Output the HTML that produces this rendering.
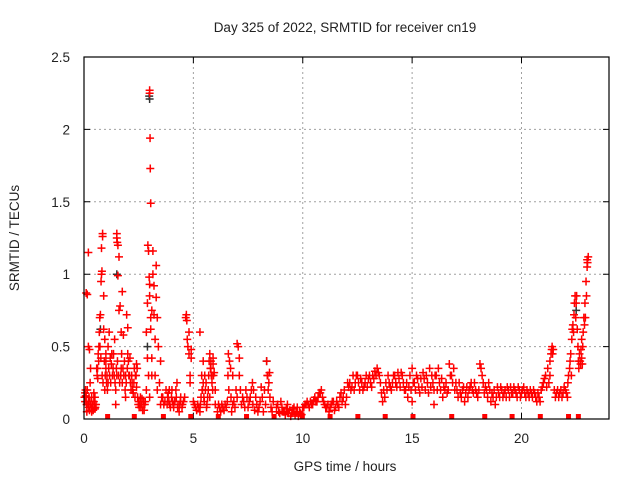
<!DOCTYPE html>
<html><head><meta charset="utf-8"><style>
body{margin:0;background:#fff}
svg{display:block;font-family:"Liberation Sans",sans-serif}
</style></head><body>
<svg id="chart" width="640" height="480" viewBox="0 0 640 480">
<rect width="640" height="480" fill="#fff"/>
<text x="345" y="32" text-anchor="middle" font-size="13.5" fill="#222">Day 325 of 2022, SRMTID for receiver cn19</text>
<text x="345" y="471" text-anchor="middle" font-size="13.5" fill="#222">GPS time / hours</text>
<text transform="translate(19,238) rotate(-90)" text-anchor="middle" font-size="13.5" fill="#222">SRMTID / TECUs</text>
<g id="grid"></g>
<g id="axes"></g>
<g id="marks"></g>
<rect x="84" y="57" width="525" height="362" fill="none" stroke="#000" stroke-width="1.2"/>
</svg>
<script>
const xTicks=[0,5,10,15,20];
const yTicks=[0,0.5,1,1.5,2,2.5];
const yTickLabels=["0","0.5","1","1.5","2","2.5"];
const redT=[0.05,0.1,0.12,0.15,0.2,0.22,0.25,0.3,0.35,0.4,0.45,0.5,0.1,0.15,0.2,0.2,0.25,0.3,0.28,0.05,0.08,0.35,0.45,0.5,0.55,
0.6,0.62,0.65,0.68,0.7,0.72,0.75,0.78,0.8,0.82,0.8,0.85,0.85,0.9,0.9,0.95,1.0,1.0,1.05,1.1,1.0,0.95,1.1,1.15,1.2,1.25,1.3,
1.35,1.4,1.45,1.45,1.5,1.5,1.5,1.52,1.55,1.55,1.6,1.6,1.65,1.7,1.7,1.75,1.75,1.8,1.85,1.9,1.9,1.95,2.0,2.0,2.05,2.1,2.15,2.2,2.25,2.3,2.35,2.4,2.4,2.45,
2.5,2.55,2.6,2.65,2.7,2.75,2.8,2.85,2.9,2.92,2.95,2.98,3.0,3.0,3.02,3.03,3.05,3.0,3.0,3.05,3.05,3.1,3.1,3.1,3.15,3.15,3.2,3.2,3.25,3.25,3.3,3.3,3.35,3.35,3.4,2.9,2.95,2.85,3.0,
3.45,3.5,3.5,3.6,3.7,3.8,3.9,4.0,4.05,4.1,4.2,4.25,4.3,4.35,4.4,3.85,3.95,
4.5,4.6,4.65,4.68,4.7,4.72,4.75,4.8,4.8,4.85,4.85,4.9,4.9,5.0,5.05,5.1,5.15,5.2,
5.3,5.3,5.35,5.4,5.45,5.45,5.5,5.55,5.6,5.65,5.7,5.75,5.8,5.8,5.85,5.85,5.9,5.95,6.0,6.0,5.75,5.9,
6.1,6.2,6.3,6.4,6.5,6.55,6.6,6.65,6.7,6.8,6.8,6.9,7.0,7.0,7.05,7.1,7.1,7.2,7.3,7.4,7.45,6.75,
7.5,7.6,7.7,7.75,7.8,7.9,8.0,8.1,8.15,8.2,8.3,8.35,8.4,8.45,8.5,8.55,8.6,8.65,
8.8,8.9,9.0,9.1,9.2,9.3,9.4,9.5,9.6,9.7,9.8,9.9,10.0,9.25,9.45,
10.1,10.2,10.3,10.4,10.5,10.6,10.7,10.8,10.85,10.9,11.0,11.1,11.2,11.3,11.4,11.5,11.6,11.7,11.8,11.9,12.0,12.05,11.95,
12.1,12.2,12.3,12.4,12.5,12.6,12.7,12.8,12.9,13.0,13.1,13.2,13.3,13.4,13.5,13.6,13.7,13.8,13.9,14.0,13.65,
14.1,14.2,14.3,14.4,14.5,14.6,14.7,14.8,14.9,15.0,15.0,15.1,15.2,15.3,15.4,15.5,15.6,15.7,15.8,15.9,16.0,16.0,
16.1,16.2,16.3,16.4,16.5,16.6,16.7,16.8,16.9,17.0,17.1,17.2,17.3,17.4,17.5,17.6,17.7,17.8,17.9,18.0,
18.1,18.15,18.2,18.3,18.4,18.5,18.6,18.7,18.8,18.9,19.0,19.1,19.2,19.3,19.4,19.5,19.6,19.7,19.8,19.9,20.0,
20.1,20.2,20.3,20.4,20.5,20.6,20.7,20.8,20.9,21.0,21.1,21.2,21.3,21.35,21.4,21.45,21.5,
21.6,21.7,21.8,21.9,22.0,22.1,22.15,22.2,22.25,22.3,22.35,22.4,22.45,22.5,22.55,22.6,22.65,22.7,22.75,22.8,22.85,22.9,22.95,23.0,23.05,23.0,22.75];
const redV=[0.18,0.15,0.1,0.2,0.12,0.08,0.06,0.1,0.05,0.08,0.12,0.07,0.87,0.86,1.15,0.5,0.48,0.35,0.25,0.12,0.16,0.15,0.18,0.15,0.1,
0.3,0.35,0.45,0.5,0.6,0.7,0.72,0.95,1.0,1.02,1.18,1.26,1.28,0.85,0.62,0.55,0.45,0.4,0.3,0.25,0.35,0.2,0.5,0.6,0.42,0.38,0.3,
0.45,0.55,0.2,0.1,0.3,1.28,1.25,1.22,1.2,0.99,1.12,0.75,0.78,0.6,0.35,0.88,0.25,0.58,0.4,0.3,0.15,0.72,0.63,0.45,0.3,0.42,0.2,0.25,0.18,0.35,0.3,0.38,0.22,0.15,
0.12,0.1,0.08,0.14,0.1,0.06,0.12,0.6,0.8,1.2,1.16,0.98,2.25,2.27,1.94,1.73,1.49,0.93,0.85,0.7,0.62,0.75,0.42,0.3,1.16,1.0,0.92,0.72,0.55,0.3,1.06,0.84,0.7,0.2,0.5,0.42,0.3,0.2,0.15,
0.25,0.4,0.1,0.15,0.12,0.1,0.2,0.15,0.12,0.08,0.2,0.25,0.1,0.05,0.12,0.18,0.08,
0.1,0.15,0.7,0.72,0.68,0.55,0.5,0.45,0.6,0.3,0.25,0.48,0.42,0.12,0.1,0.08,0.06,0.1,
0.6,0.05,0.15,0.2,0.25,0.4,0.12,0.2,0.08,0.15,0.3,0.45,0.4,0.35,0.3,0.25,0.38,0.32,0.2,0.1,0.15,0.42,
0.05,0.08,0.1,0.06,0.08,0.12,0.45,0.4,0.35,0.3,0.1,0.08,0.15,0.52,0.5,0.42,0.3,0.1,0.12,0.2,0.15,0.05,
0.08,0.15,0.25,0.2,0.06,0.1,0.08,0.22,0.15,0.05,0.1,0.4,0.3,0.25,0.15,0.08,0.05,0.12,
0.08,0.05,0.12,0.05,0.03,0.1,0.06,0.04,0.08,0.05,0.02,0.04,0.08,0.07,0.02,
0.1,0.12,0.08,0.1,0.13,0.12,0.15,0.18,0.2,0.15,0.1,0.08,0.05,0.1,0.12,0.08,0.1,0.15,0.12,0.2,0.15,0.25,0.1,
0.22,0.2,0.3,0.25,0.3,0.2,0.25,0.22,0.3,0.28,0.25,0.3,0.33,0.35,0.3,0.18,0.2,0.25,0.3,0.22,0.12,
0.25,0.3,0.22,0.28,0.32,0.25,0.2,0.15,0.3,0.35,0.12,0.25,0.3,0.22,0.28,0.32,0.2,0.25,0.35,0.3,0.1,0.2,
0.3,0.35,0.2,0.15,0.2,0.18,0.38,0.3,0.35,0.25,0.15,0.18,0.2,0.12,0.22,0.2,0.25,0.18,0.2,0.15,
0.38,0.35,0.3,0.18,0.2,0.25,0.12,0.15,0.1,0.22,0.15,0.2,0.18,0.15,0.2,0.22,0.18,0.2,0.15,0.2,0.18,
0.22,0.15,0.18,0.2,0.15,0.18,0.12,0.15,0.2,0.25,0.3,0.35,0.3,0.45,0.5,0.48,0.2,
0.18,0.15,0.2,0.18,0.2,0.15,0.3,0.35,0.45,0.55,0.65,0.72,0.85,0.8,0.62,0.4,0.45,0.38,0.42,0.5,0.7,0.8,0.95,1.1,1.12,1.05,0.55];
const redT2=[0.02,0.07,0.13,0.18,0.23,0.27,0.33,0.38,0.42,0.48,0.52,0.58,0.63,0.67,0.73,0.77,0.83,0.87,0.93,0.97,1.03,1.07,1.13,1.17,1.22,1.27,1.33,1.38,1.42,1.48,1.53,1.58,1.63,1.68,1.72,1.78,1.82,1.88,1.93,1.98,2.03,2.08,2.12,2.18,2.22,2.28,2.33,2.38,2.43,2.48,2.52,2.58,2.62,2.68,2.72,2.78,
3.55,3.65,3.75,3.82,3.88,3.92,4.02,4.08,4.15,4.22,4.28,4.38,4.42,4.48,4.55,
5.25,5.32,5.38,5.42,5.48,5.52,5.58,5.62,5.68,5.72,5.78,5.82,5.88,5.92,
6.15,6.25,6.35,6.45,6.58,6.62,6.72,6.85,6.95,7.15,7.25,7.35,7.55,7.65,7.72,7.85,7.95,8.05,8.25,8.38,8.42,8.48,
8.85,8.95,9.05,9.15,9.35,9.55,9.65,9.75,9.85,9.95,
10.05,10.15,10.25,10.35,10.45,10.55,10.65,10.75,10.95,11.05,11.15,11.25,11.35,11.45,11.55,11.65,11.75,11.85,12.15,12.25,12.35,12.45,12.55,12.65,12.75,12.85,12.95,13.05,13.15,13.25,13.35,13.45,13.55,13.75,13.85,13.95,
14.05,14.15,14.25,14.35,14.45,14.55,14.65,14.75,14.85,14.95,15.05,15.15,15.25,15.35,15.45,15.55,15.65,15.75,15.85,15.95,16.05,16.15,16.25,16.35,16.45,16.55,16.65,16.75,16.85,16.95,
17.05,17.15,17.25,17.35,17.45,17.55,17.65,17.75,17.85,17.95,18.05,18.25,18.35,18.45,18.55,18.65,18.75,18.85,18.95,19.05,19.15,19.25,19.35,19.45,19.55,19.65,19.75,19.85,19.95,
20.05,20.15,20.25,20.35,20.45,20.55,20.65,20.75,20.85,20.95,21.05,21.15,21.25,21.3,21.38,21.42,21.55,21.65,21.75,21.85,21.95,22.05,22.12,22.22,22.28,22.32,22.38,22.42,22.48,22.52,22.58,22.62,22.68,22.72,22.78,22.82,22.88,22.92,22.97,23.02];
const redV2=[0.15,0.2,0.05,0.1,0.15,0.12,0.08,0.1,0.06,0.1,0.08,0.35,0.28,0.4,0.5,0.42,0.3,0.25,0.4,0.3,0.25,0.2,0.35,0.3,0.25,0.45,0.35,0.3,0.25,0.35,0.4,0.3,0.25,0.3,0.45,0.35,0.3,0.2,0.25,0.35,0.4,0.3,0.25,0.3,0.2,0.25,0.15,0.3,0.35,0.1,0.08,0.15,0.1,0.06,0.12,0.1,
0.15,0.1,0.2,0.15,0.12,0.1,0.2,0.1,0.12,0.15,0.08,0.1,0.15,0.08,0.12,
0.08,0.1,0.3,0.2,0.15,0.3,0.25,0.1,0.2,0.4,0.35,0.3,0.2,0.3,
0.1,0.05,0.08,0.1,0.3,0.2,0.15,0.12,0.2,0.2,0.15,0.08,0.12,0.2,0.1,0.15,0.05,0.12,0.2,0.3,0.2,0.32,
0.1,0.04,0.08,0.05,0.04,0.07,0.03,0.08,0.05,0.03,
0.08,0.1,0.1,0.12,0.1,0.15,0.12,0.18,0.12,0.08,0.1,0.08,0.12,0.06,0.12,0.08,0.18,0.15,0.25,0.22,0.2,0.3,0.25,0.28,0.2,0.25,0.22,0.3,0.22,0.28,0.3,0.32,0.25,0.15,0.2,0.25,
0.2,0.3,0.25,0.32,0.22,0.3,0.2,0.25,0.22,0.2,0.25,0.2,0.28,0.18,0.22,0.28,0.3,0.18,0.22,0.25,0.3,0.2,0.25,0.28,0.22,0.25,0.2,0.3,0.25,0.2,
0.2,0.25,0.15,0.22,0.18,0.15,0.22,0.2,0.25,0.18,0.2,0.25,0.22,0.15,0.2,0.18,0.2,0.15,0.18,0.22,0.15,0.2,0.22,0.15,0.18,0.22,0.18,0.22,0.15,
0.2,0.18,0.2,0.15,0.18,0.2,0.15,0.18,0.12,0.22,0.28,0.22,0.25,0.4,0.48,0.45,0.15,0.2,0.18,0.15,0.22,0.18,0.25,0.4,0.3,0.62,0.6,0.8,0.7,0.85,0.5,0.35,0.4,0.48,0.38,0.6,0.65,0.7,0.85,1.08];
const blackT=[2.98,3.0,1.5,0.75,2.9,8.35,22.5];
const blackV=[2.23,2.21,1.0,0.62,0.5,0.4,0.75];
const zeroT=[1.08,2.3,3.63,4.88,6.14,7.43,8.69,9.98,11.25,12.52,13.77,15.04,16.81,18.32,19.57,20.86,22.15,22.6];

const X0=84,X1=609,Y0=419,Y1=57,XMAX=24,YMAX=2.5;
const sx=t=>X0+(X1-X0)*t/XMAX;
const sy=v=>Y0-(Y0-Y1)*v/YMAX;
const NS="http://www.w3.org/2000/svg";
function mk(tag,attrs,parent){const e=document.createElementNS(NS,tag);for(const k in attrs)e.setAttribute(k,attrs[k]);parent.appendChild(e);return e;}
const grid=document.getElementById('grid'),axes=document.getElementById('axes'),marks=document.getElementById('marks');
xTicks.forEach(t=>{
  const x=sx(t);
  if(t>0){const g=mk('line',{x1:x,x2:x,y1:Y0,y2:Y1,stroke:'#a0a0a0','stroke-dasharray':'2,3','stroke-width':1},grid);
  
  }
  const tk=mk('path',{d:`M${x},${Y0}v-6M${x},${Y1}v6`,stroke:'#000','stroke-width':1},axes);
  
  
  const lb=mk('text',{x:x,y:443,'text-anchor':'middle','font-size':13.5,fill:'#222'},axes);
  lb.textContent=String(t);
  
  
});
yTicks.forEach((v,i)=>{
  const y=sy(v);
  if(v>0&&v<YMAX){const g=mk('line',{x1:X0,x2:X1,y1:y,y2:y,stroke:'#a0a0a0','stroke-dasharray':'2,3','stroke-width':1},grid);
  
  }
  const tk=mk('path',{d:`M${X0},${y}h6M${X1},${y}h-6`,stroke:'#000','stroke-width':1},axes);
  
  
  const lb=mk('text',{x:70,y:y+5,'text-anchor':'end','font-size':13.5,fill:'#222'},axes);
  lb.textContent=yTickLabels[i];
  
  
});
function plus(t,v,col,name){
  const x=sx(t),y=sy(v);
  const p=mk('path',{d:`M${x-4},${y}h8M${x},${y-4}v8`,stroke:col,'stroke-width':1.5},marks);
  
  
}
blackT.forEach((t,i)=>plus(t,blackV[i],'#333','black-point'));
redT.forEach((t,i)=>plus(t,redV[i],'#ff0000','red-point'));
redT2.forEach((t,i)=>plus(t,redV2[i],'#ff0000','red-point'));
zeroT.forEach(t=>{
  const r=mk('rect',{x:sx(t)-2.5,y:Y0-5,width:5,height:5,fill:'#ff0000'},marks);
  
  
});
</script>
</body></html>
